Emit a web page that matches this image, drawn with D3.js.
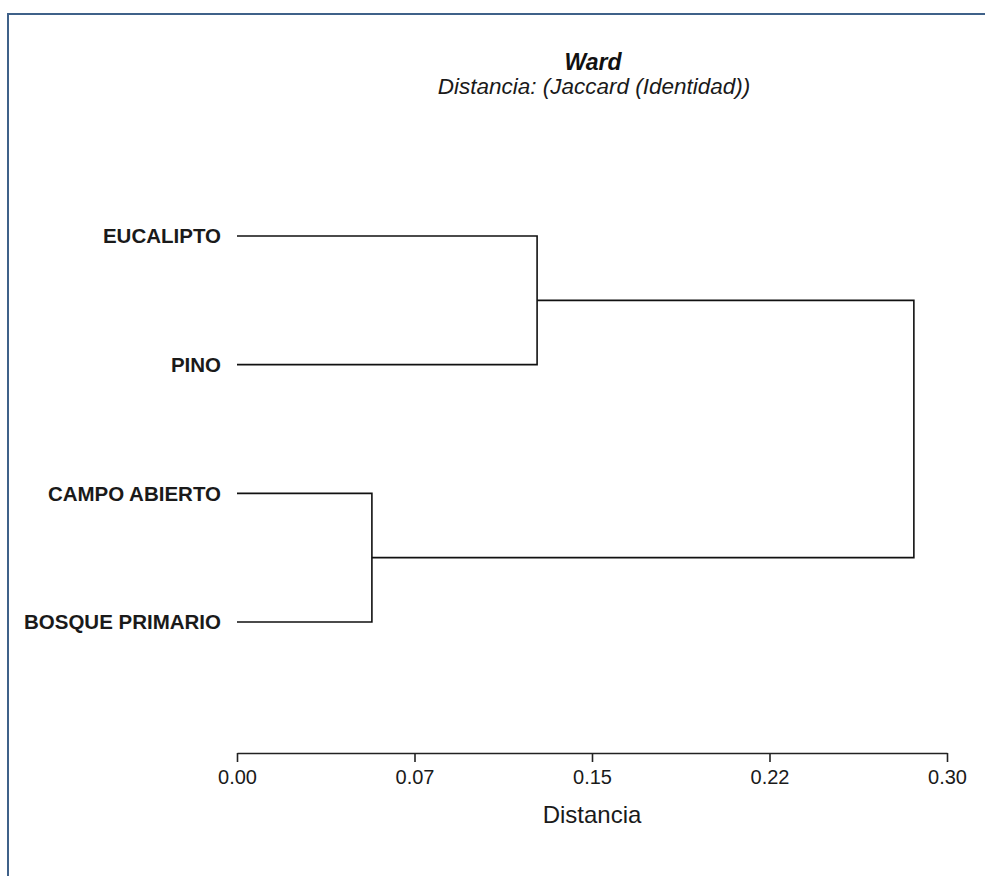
<!DOCTYPE html>
<html><head><meta charset="utf-8">
<script src="https://cdn.jsdelivr.net/npm/d3@7"></script>
<style>body{margin:0;background:#fff;} svg{display:block;}</style>
</head><body>
<svg id="c" width="985" height="876"></svg>
<script>
const title = "Ward";
const subtitle = "Distancia: (Jaccard (Identidad))";
const xLabel = "Distancia";
const leaves = ["EUCALIPTO", "PINO", "CAMPO ABIERTO", "BOSQUE PRIMARIO"];
// merges: [left child, right child, height]; children are leaf names or merge ids "m0", "m1"
const mergeLeft = ["EUCALIPTO", "CAMPO ABIERTO", "m0"];
const mergeRight = ["PINO", "BOSQUE PRIMARIO", "m1"];
const mergeHeight = [0.1268, 0.0570, 0.2860];
const tickValues = [0, 0.075, 0.15, 0.225, 0.30];
const tickLabels = ["0.00", "0.07", "0.15", "0.22", "0.30"];

const FONT = "Liberation Sans, Arial, sans-serif";
const svg = d3.select("#c");
svg.append("rect").attr("x", 8).attr("y", 14).attr("width", 1000).attr("height", 900)
  .attr("fill", "#fff").attr("stroke", "#3f6189").attr("stroke-width", 2);

const x = d3.scaleLinear().domain([0, 0.30]).range([237, 947]);
const y = d3.scalePoint().domain(leaves).range([236, 622]);

const pos = {};
leaves.forEach(l => pos[l] = {x: x(0), y: y(l)});
const lines = [];
mergeHeight.forEach((h, i) => {
  const a = pos[mergeLeft[i]], b = pos[mergeRight[i]];
  const xm = x(h);
  lines.push([[a.x, a.y], [xm, a.y], [xm, b.y], [b.x, b.y]]);
  pos["m" + i] = {x: xm, y: (a.y + b.y) / 2};
});
svg.append("g").selectAll("path").data(lines).join("path")
  .attr("d", d => d3.line()(d)).attr("fill", "none")
  .attr("stroke", "#111").attr("stroke-width", 1.6);

svg.append("g").selectAll("text").data(leaves).join("text")
  .attr("x", 221).attr("y", d => y(d)).attr("dy", "0.35em")
  .attr("text-anchor", "end").attr("font-family", FONT)
  .attr("font-weight", "bold").attr("font-size", 20.5).attr("fill", "#1a1a1a").text(d => d);

const axis = d3.axisBottom(x).tickValues(tickValues).tickFormat((d, i) => tickLabels[i])
  .tickSize(9).tickSizeOuter(0).tickPadding(8);
const ag = svg.append("g").attr("transform", "translate(0,753)").call(axis);
ag.select(".domain").attr("stroke", "#222").attr("stroke-width", 1.6);
ag.selectAll(".tick line").attr("stroke", "#222").attr("stroke-width", 1.6);
ag.selectAll(".tick text").attr("font-family", FONT)
  .attr("font-size", 20).attr("fill", "#1a1a1a");

svg.append("text").attr("x", 592).attr("y", 823).attr("text-anchor", "middle")
  .attr("font-family", FONT).attr("font-size", 24).attr("fill", "#1a1a1a").text(xLabel);
svg.append("text").attr("x", 593).attr("y", 70).attr("text-anchor", "middle")
  .attr("font-family", FONT).attr("font-size", 23)
  .attr("font-weight", "bold").attr("font-style", "italic").attr("fill", "#111").text(title);
svg.append("text").attr("x", 594).attr("y", 94).attr("text-anchor", "middle")
  .attr("font-family", FONT).attr("font-size", 22.5)
  .attr("font-style", "italic").attr("fill", "#1a1a1a").text(subtitle);
</script>
</body></html>
